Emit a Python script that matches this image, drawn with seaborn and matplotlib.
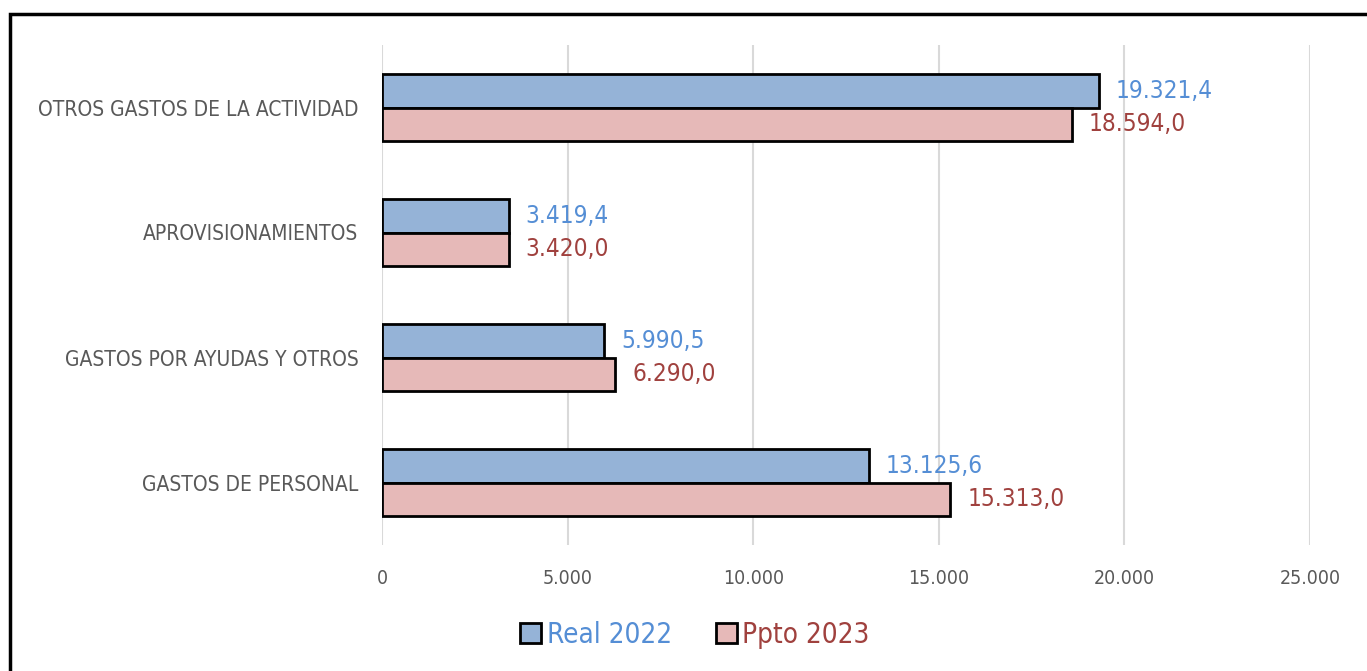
import pandas as pd
import matplotlib.pyplot as plt
import seaborn as sns
from matplotlib.patches import Rectangle, Patch

categories = [
    "OTROS GASTOS DE LA ACTIVIDAD",
    "APROVISIONAMIENTOS",
    "GASTOS POR AYUDAS Y OTROS",
    "GASTOS DE PERSONAL",
]
real_2022 = [19321.4, 3419.4, 5990.5, 13125.6]
ppto_2023 = [18594.0, 3420.0, 6290.0, 15313.0]
series = ["Real 2022", "Ppto 2023"]
xticks = [0, 5000, 10000, 15000, 20000, 25000]

df = pd.DataFrame({
    "cat": categories * 2,
    "valor": real_2022 + ppto_2023,
    "serie": [series[0]] * 4 + [series[1]] * 4,
})

sns.set_style("white")
plt.rcParams["font.family"] = ["DejaVu Sans"]
plt.rcParams["font.stretch"] = "condensed"

fills = {"Real 2022": "#95B3D7", "Ppto 2023": "#E6B9B8"}
text_cols = {"Real 2022": "#558ED5", "Ppto 2023": "#A0413E"}

fig = plt.figure(figsize=(13.67, 6.71), dpi=100)
ax = fig.add_axes([382 / 1367, 1 - 545 / 671, 928 / 1367, 500 / 671])

sns.barplot(data=df, y="cat", x="valor", hue="serie", order=categories,
            hue_order=series, palette=fills, saturation=1, orient="h", width=0.53,
            edgecolor="black", linewidth=2, legend=False, ax=ax, zorder=3)

for cont, name in zip(ax.containers, series):
    labels = [f"{v:,.1f}".replace(",", "X").replace(".", ",").replace("X", ".")
              for v in cont.datavalues]
    ax.bar_label(cont, labels=labels, padding=12, color=text_cols[name],
                 fontsize=17.5)

ax.set_xlim(0, 25000)
ax.set_xticks(xticks)
ax.set_xticklabels([f"{t:,}".replace(",", ".") for t in xticks])
ax.xaxis.grid(True, color="#D9D9D9", linewidth=1.5, zorder=0)
ax.set_axisbelow(True)
for s in ax.spines.values():
    s.set_visible(False)
ax.tick_params(axis="x", length=0, pad=17, labelsize=14, labelcolor="#595959")
ax.tick_params(axis="y", length=0, pad=17, labelsize=15, labelcolor="#595959")
ax.set_xlabel("")
ax.set_ylabel("")

handles = [Patch(facecolor=fills[s], edgecolor="black", linewidth=2) for s in series]
leg = fig.legend(handles, series, loc="center", bbox_to_anchor=(695 / 1367, 1 - 635 / 671),
                 ncol=2, frameon=False, fontsize=20, handlelength=0.75,
                 handleheight=0.75, handletextpad=0.2, columnspacing=1.6)
for t, s in zip(leg.get_texts(), series):
    t.set_color(text_cols[s])

fig.patches.append(Rectangle((10 / 1367, -0.1), 1.2, 1 - 14 / 671 + 0.1,
                             transform=fig.transFigure, fill=False,
                             edgecolor="black", linewidth=2.5))

fig.savefig("out.png", dpi=100)
